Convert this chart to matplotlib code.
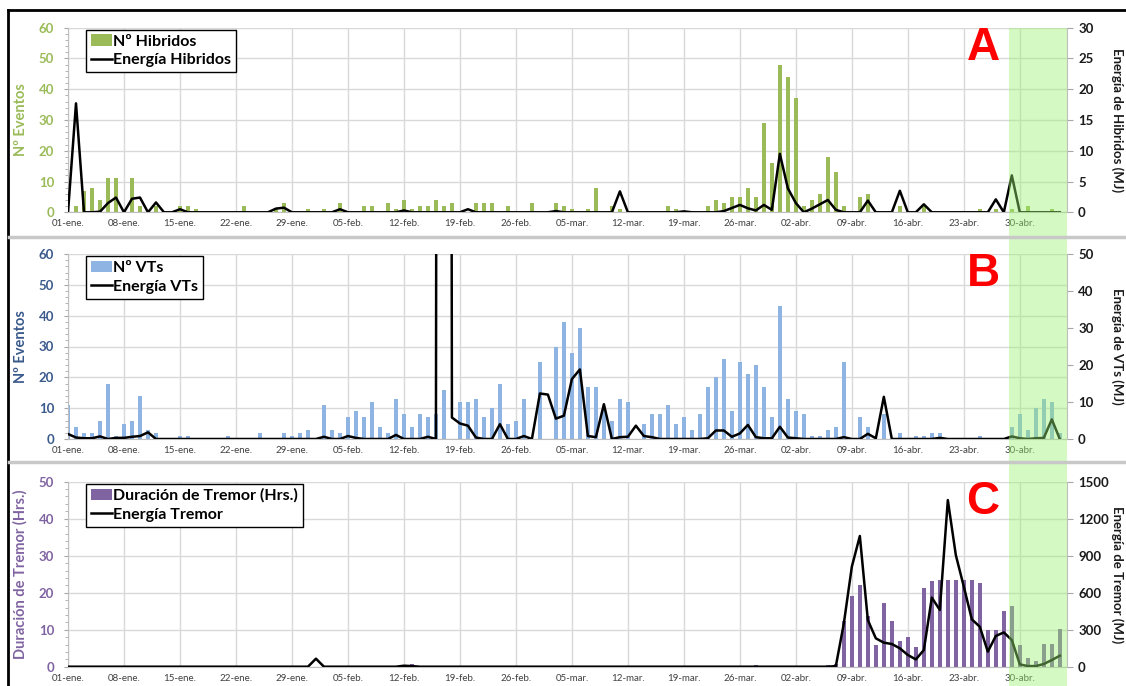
import numpy as np
import matplotlib
matplotlib.use("Agg")
import matplotlib.pyplot as plt
from matplotlib.lines import Line2D
from matplotlib.patches import Rectangle, Patch
from matplotlib.ticker import MultipleLocator, AutoMinorLocator
import matplotlib.transforms as mtransforms

plt.rcParams['font.family'] = ['Lato', 'DejaVu Sans']

# days counted from 01-ene (0) to 05-may (124)
days = np.arange(125)
tick_days = np.arange(0, 120, 7)
tick_labels = ["01-ene.", "08-ene.", "15-ene.", "22-ene.", "29-ene.", "05-feb.",
               "12-feb.", "19-feb.", "26-feb.", "05-mar.", "12-mar.", "19-mar.",
               "26-mar.", "02-abr.", "09-abr.", "16-abr.", "23-abr.", "30-abr."]
shade_start = 117.6
shade_end = 124.9

# Panel A: hibridos
n_hibridos = [0, 2, 7, 8, 4, 11, 11, 0, 11, 2, 0, 2, 0, 0, 2, 2, 1, 0, 0, 0,
              0, 0, 2, 0, 0, 0, 1, 3, 0, 0, 1, 0, 1, 0, 3, 0, 0, 2, 2, 0,
              3, 1, 4, 1, 2, 2, 4, 2, 3, 0, 0, 3, 3, 3, 0, 2, 0, 0, 3, 0,
              0, 3, 2, 1, 0, 1, 8, 0, 2, 1, 0, 0, 0, 0, 0, 2, 1, 0, 0, 0,
              2, 4, 3, 5, 5, 8, 5, 29, 16, 48, 44, 37, 2, 4, 6, 18, 13, 2, 0, 5,
              6, 0, 0, 0, 2, 0, 0, 2, 0, 0, 0, 0, 0, 0, 1, 0, 1, 0, 1, 0,
              2, 0, 0, 1, 0]
e_hibridos = [0, 17.7, 0, 0, 0.1, 1.5, 2.4, 0, 2.2, 2.4, 0, 1.6, 0, 0, 0.5, 0, 0, 0, 0, 0,
              0, 0, 0, 0, 0, 0, 0.6, 0.75, 0, 0, 0, 0, 0, 0, 0.5, 0, 0, 0, 0, 0,
              0, 0, 0.3, 0, 0, 0, 0, 0, 0, 0, 0.5, 0, 0, 0, 0, 0, 0, 0, 0, 0,
              0, 0.2, 0, 0, 0, 0, 0, 0, 0, 3.4, 0, 0, 0, 0, 0, 0, 0, 0.15, 0, 0,
              0, 0, 0.2, 0.7, 1.2, 0.65, 0.3, 1.2, 0.4, 9.5, 3.9, 1.5, 0, 0.6, 1.3, 2.0, 0.4, 0, 0, 0,
              1.9, 0, 0, 0, 3.5, 0, 0, 1.3, 0, 0, 0, 0, 0, 0, 0, 0, 2.1, 0, 6.0, 0,
              0, 0, 0, 0, 0]

# Panel B: VTs
n_vts = [11, 4, 2, 2, 6, 18, 1, 5, 6, 14, 3, 2, 0, 0, 1, 1, 0, 0, 0, 0,
         1, 0, 0, 0, 2, 0, 0, 2, 1, 2, 3, 0, 11, 3, 2, 7, 9, 7, 12, 4,
         2, 13, 8, 4, 8, 7, 8, 16, 0, 12, 12, 13, 7, 10, 18, 5, 6, 13, 0, 25,
         0, 30, 38, 28, 36, 17, 17, 10, 6, 13, 12, 0, 5, 8, 8, 11, 5, 7, 3, 8,
         17, 20, 26, 9, 25, 21, 24, 17, 7, 43, 13, 9, 8, 1, 1, 3, 4, 25, 0, 7,
         4, 0, 8, 0, 2, 0, 1, 1, 2, 2, 0, 0, 0, 0, 1, 0, 0, 0, 4, 8,
         3, 10, 13, 12, 2]
e_vts = [1.35, 0.4, 0.2, 0.2, 0.7, 0, 0.3, 0.3, 0.6, 0.8, 1.8, 0, 0, 0, 0, 0, 0, 0, 0, 0,
         0, 0, 0, 0, 0, 0, 0, 0, 0, 0, 0, 0, 0.6, 0, 0, 0.8, 0.3, 0, 0, 0,
         0, 1.1, 0, 0, 0, 0.6, 0, 1500, 5.8, 4.2, 3.6, 0.4, 0, 0, 4.0, 0, 0, 0.8, 0, 12.3,
         12.0, 5.5, 6.3, 16.2, 18.8, 0.8, 0.5, 9.4, 0, 0.5, 0.6, 3.6, 0.8, 0.5, 0, 0, 0, 0, 0, 0,
         0.2, 2.3, 2.3, 0.6, 1.5, 3.8, 0.5, 0.2, 0.2, 3.3, 0.4, 0.2, 0, 0, 0, 0, 0, 0.5, 0, 0,
         1.4, 0.2, 11.4, 0, 0, 0, 0, 0, 0, 0.3, 0, 0, 0, 0, 0, 0, 0, 0, 0.7, 0.2,
         0, 0.2, 0.3, 5.3, 0]

# Panel C: tremor
dur_tremor = [0] * 43 + [0.8] + [0] * 42 + [0.5] + [0] * 8 + \
             [0.4, 0.7, 12.4, 19.1, 22, 13.8, 5.8, 17.1, 12.3, 7, 7.9, 5.4, 21.4, 23.2, 23.4,
              23.4, 23.4, 23.4, 23.4, 22.7, 9.9, 9.9, 15, 16.4, 5.9, 2.3, 1.6, 6.1, 6.1, 10.2]
e_tremor = [0] * 31 + [65] + [0] * 10 + [8, 5] + [0] * 52 + \
           [5, 351, 811, 1060, 378, 230, 195, 184, 149, 95, 59, 135, 560, 460, 1351,
            905, 649, 384, 324, 122, 249, 278, 216, 19, 5, 5, 22, 54, 89]

panels = [
    dict(bars=n_hibridos, line=e_hibridos, color='#9BBB59', tick_color='#9BBB59',
         lmax=60, lstep=10, rmax=30, rstep=5, ylabel='Nº Eventos',
         rlabel='Energía de Hibridos (MJ)', bar_name='Nº Hibridos',
         line_name='Energía Hibridos', letter='A', rect=[68, 27.7, 1067, 212.3]),
    dict(bars=n_vts, line=e_vts, color='#8DB4E2', tick_color='#3A5A8C',
         lmax=60, lstep=10, rmax=50, rstep=10, ylabel='Nº Eventos',
         rlabel='Energía de VTs (MJ)', bar_name='Nº VTs',
         line_name='Energía VTs', letter='B', rect=[68, 254, 1067, 439]),
    dict(bars=dur_tremor, line=e_tremor, color='#8064A2', tick_color='#8064A2',
         lmax=50, lstep=10, rmax=1500, rstep=300, ylabel='Duración de Tremor (Hrs.)',
         rlabel='Energía de Tremor (MJ)', bar_name='Duración de Tremor (Hrs.)',
         line_name='Energía Tremor', letter='C', rect=[68, 481.7, 1067, 666.7]),
]

W, H = 1126, 686
fig = plt.figure(figsize=(W / 100, H / 100), dpi=100)
fig.patch.set_facecolor('white')

grid_c = '#D9D9D9'
axes = []
for p in panels:
    x0, y0, x1, y1 = p['rect']
    ax = fig.add_axes([x0 / W, 1 - y1 / H, (x1 - x0) / W, (y1 - y0) / H])
    ax.bar(days, p['bars'], width=0.55, color=p['color'], zorder=2)
    ax.set_xlim(0, shade_end)
    ax.set_ylim(0, p['lmax'])
    ax.yaxis.set_major_locator(MultipleLocator(p['lstep']))
    ax.yaxis.set_minor_locator(AutoMinorLocator(5))
    ax.set_xticks(tick_days)
    ax.set_xticklabels(tick_labels)
    ax.set_axisbelow(True)
    ax.grid(True, which='major', color=grid_c, lw=1)
    for s in ['top', 'right']:
        ax.spines[s].set_visible(False)
    ax.spines['left'].set_color('#BFBFBF')
    ax.spines['bottom'].set_color('#BFBFBF')
    ax.tick_params(axis='x', length=0, pad=5, labelsize=7, labelcolor='#404040')
    ax.tick_params(axis='y', which='major', length=3, color='#A6A6A6', pad=7,
                   labelsize=9.5, labelcolor=p['tick_color'])
    ax.tick_params(axis='y', which='minor', length=2, color='#A6A6A6')
    for t in ax.get_yticklabels():
        t.set_fontweight('bold')
    ax.set_ylabel(p['ylabel'], color=p['tick_color'], fontsize=10.5, fontweight='bold')
    ax.yaxis.set_label_coords(-0.040, 0.5)

    ax2 = ax.twinx()
    ax2.plot(days, p['line'], color='black', lw=1.8, zorder=3)
    ax2.set_ylim(0, p['rmax'])
    ax2.yaxis.set_major_locator(MultipleLocator(p['rstep']))
    for s in ['top', 'left', 'bottom']:
        ax2.spines[s].set_visible(False)
    ax2.spines['right'].set_color('#BFBFBF')
    ax2.tick_params(axis='y', length=4, color='#A6A6A6', pad=4, labelsize=9.5,
                    labelcolor='#1A1A1A')
    for t in ax2.get_yticklabels():
        t.set_fontweight('bold')
    ax2.set_ylabel(p['rlabel'], rotation=270, fontsize=9.5, fontweight='bold',
                   color='#1A1A1A', va='center')
    ax2.yaxis.set_label_coords(1.050, 0.5)

    handles = [Patch(facecolor=p['color'], edgecolor='none'),
               Line2D([0], [0], color='black', lw=1.8)]
    leg = ax2.legend(handles, [p['bar_name'], p['line_name']], loc='upper left',
                     bbox_to_anchor=(0.018, 0.99), frameon=True, fancybox=False,
                     edgecolor='black', framealpha=1, borderpad=0.3,
                     handlelength=1.3, handleheight=0.7, handletextpad=0.1,
                     labelspacing=0.3, borderaxespad=0,
                     prop={'weight': 'bold', 'size': 11.5})
    leg.get_frame().set_linewidth(1.0)

    ax2.text(0.916, 0.89, p['letter'], transform=ax2.transAxes, ha='center',
             va='center', color='#FF0000', fontsize=33, fontweight='bold',
             family=['Liberation Sans', 'DejaVu Sans'])
    axes.append(ax)

# green highlight over the last days, through all three panels
trans = mtransforms.blended_transform_factory(axes[2].transData, fig.transFigure)
fig.patches.append(Rectangle((shade_start, 0), shade_end - shade_start, 1 - 27.7 / H,
                             transform=trans, facecolor='#99F26E', alpha=0.42,
                             edgecolor='none', zorder=5))

# page borders and panel separators
fig.add_artist(Line2D([8 / W, 1], [1 - 9.5 / H, 1 - 9.5 / H], color='black', lw=2,
                      transform=fig.transFigure, zorder=6))
fig.add_artist(Line2D([8 / W, 8 / W], [0, 1 - 9.5 / H], color='black', lw=2,
                      transform=fig.transFigure, zorder=6))
for yy in [236.5, 461.5]:
    fig.add_artist(Line2D([9 / W, 1], [1 - yy / H, 1 - yy / H], color='#C8C8C8', lw=2.5,
                          transform=fig.transFigure, zorder=6))

fig.savefig('out.png', dpi=100)
